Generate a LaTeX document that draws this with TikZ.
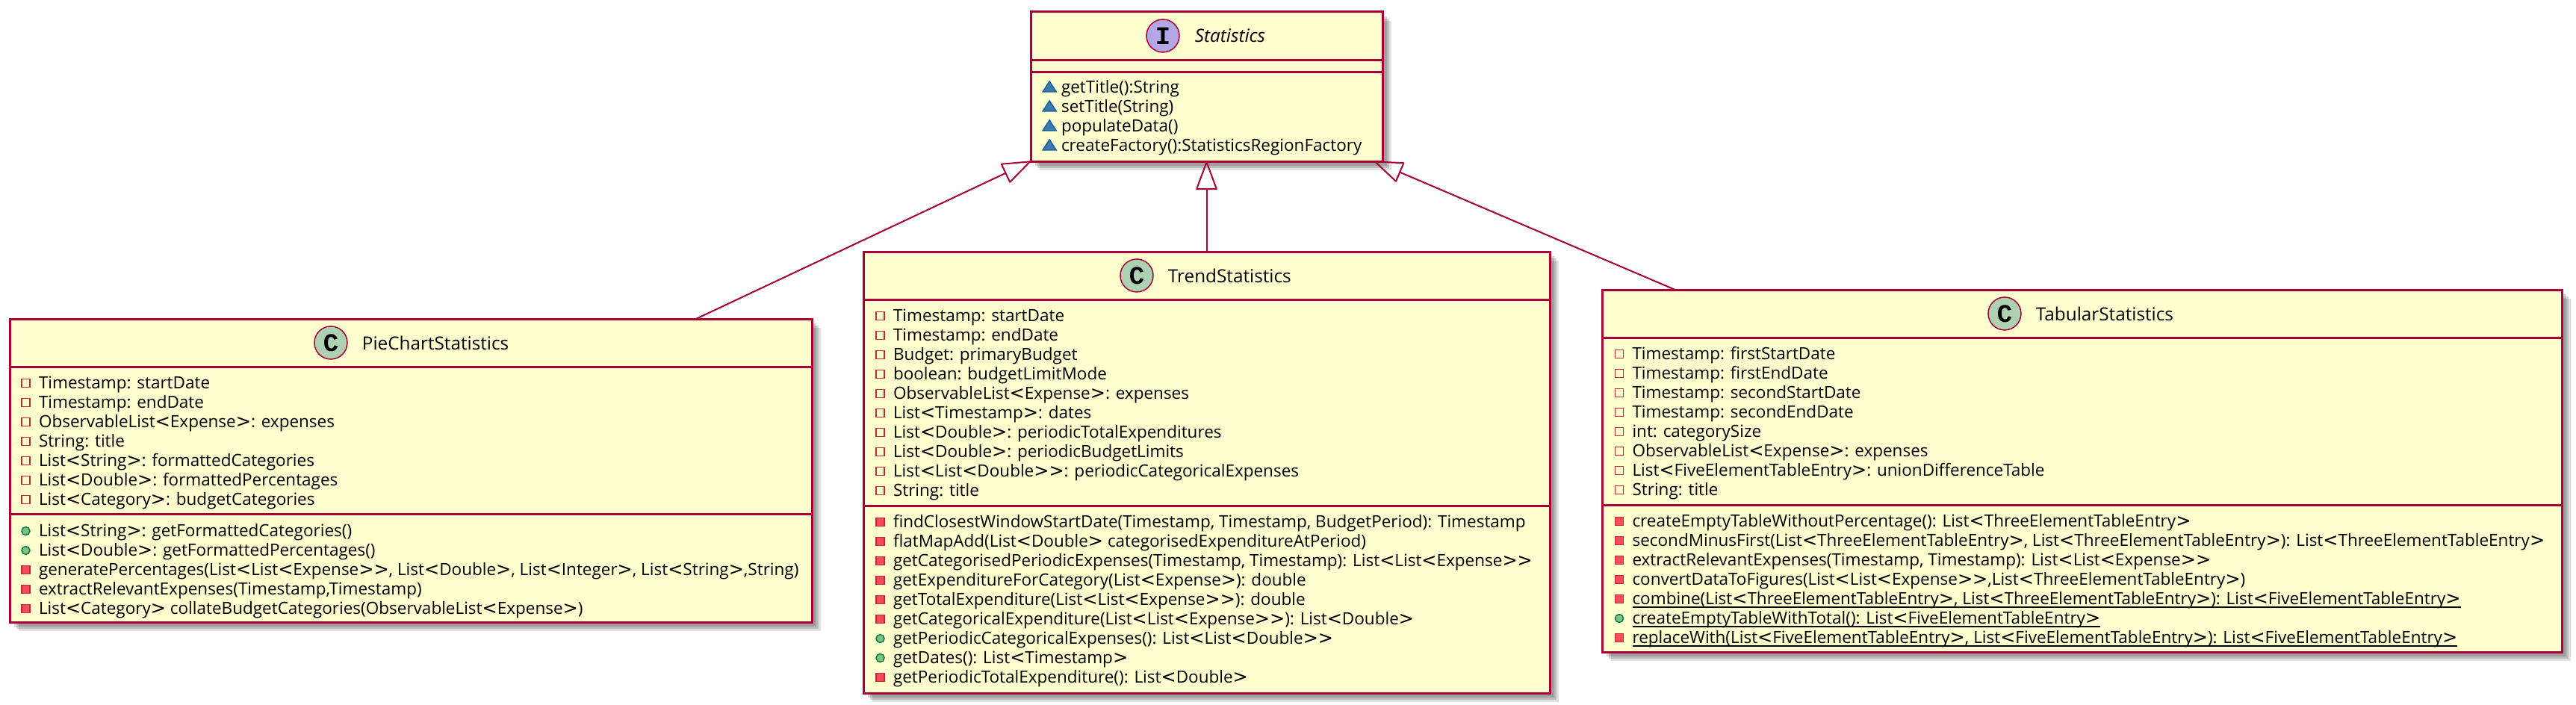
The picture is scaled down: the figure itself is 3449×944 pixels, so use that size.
\documentclass[tikz,border=0pt]{standalone}
\usepackage{fontspec}
\setmainfont{Open Sans}[Ligatures=TeXOff]
\newfontfamily\spotfont{Liberation Mono}
\newfontfamily\bracketfont{DejaVu Sans}[Scale=1.07]
\usepackage{tikz}
\usetikzlibrary{arrows.meta,positioning,shapes.geometric,shadows}
\definecolor{umlborder}{HTML}{A80036}
\definecolor{umlfill}{HTML}{FEFECE}
\definecolor{umlred}{HTML}{C82930}
\definecolor{umlredfill}{HTML}{F24D5C}
\definecolor{umlgreen}{HTML}{038048}
\definecolor{umlgreenfill}{HTML}{84BE84}
\definecolor{umlblue}{HTML}{1963A0}
\definecolor{umlbluefill}{HTML}{4177AF}
\definecolor{spotgreen}{HTML}{ADD1B2}
\definecolor{spotpurple}{HTML}{B4A7E5}
\tikzset{
  uml/box/.style={draw=umlborder, fill=umlfill, rectangle, line width=3pt, inner sep=0pt, outer sep=0pt,
    drop shadow={shadow xshift=6pt, shadow yshift=-6pt, fill=black, opacity=.16},
    drop shadow={shadow xshift=9pt, shadow yshift=-9pt, fill=black, opacity=.16},
    drop shadow={shadow xshift=12pt, shadow yshift=-12pt, fill=black, opacity=.12}},
  uml/spot/.style={draw=umlborder, circle, line width=1.5pt, inner sep=0pt, outer sep=0pt, minimum size=44pt,
    font={\spotfont\fontsize{34}{34}\selectfont\bfseries}},
  uml/title/.style={inner sep=0pt, outer sep=0pt, font=\fontsize{24.3}{26}\selectfont},
  uml/member/.style={anchor=north west, inner sep=0pt, outer sep=0pt, text height=20pt, text depth=6pt,
    font=\fontsize{22.5}{26}\selectfont},
  uml/icon/.style={inner sep=0pt, outer sep=0pt, line width=1.5pt, label distance=12pt},
  uml/square/.style={uml/icon, rectangle, draw=umlred, minimum size=11pt},
  uml/round/.style={uml/icon, circle, draw=umlgreen, fill=umlgreenfill, minimum size=11pt},
  uml/tri/.style={uml/icon, isosceles triangle, isosceles triangle stretches, shape border rotate=90,
    draw=umlblue, fill=umlbluefill, minimum width=18pt, minimum height=14pt, label distance=10pt}
}
\begin{document}
\catcode`\<=\active \def<{{\bracketfont\char`\<}}
\catcode`\>=\active \def>{{\bracketfont\char`\>}}
\begin{tikzpicture}[
  x=1pt, y=-1pt,
  classspot/.style={uml/spot, fill=spotgreen},
  ifacespot/.style={uml/spot, fill=spotpurple},
  sep/.style={draw=umlborder, line width=3pt},
  extends/.style={draw=umlborder, line width=2pt, -{Triangle[open, length=40pt, width=29pt, round]}},
  static/.style={draw=black, line width=2pt},
  privattr/.style={uml/member, label={[uml/square]left:{}}},
  privmeth/.style={uml/member, label={[uml/square, fill=umlredfill]left:{}}},
  pubmeth/.style={uml/member, label={[uml/round]left:{}}},
  pkgmeth/.style={uml/member, label={[uml/tri]left:{}}}
]
\useasboundingbox (0,0) rectangle (3449,944);

\node[uml/box, minimum width=471pt, minimum height=200pt] (statistics) at (1615.5,116) {};
\node[uml/box, minimum width=919pt, minimum height=591pt, below=121pt of statistics] (trend) {};
\node[uml/box, minimum width=1074pt, minimum height=406pt, below left=211pt and 293pt of statistics] (pie) {};
\node[uml/box, minimum width=1285pt, minimum height=485pt, below right=172pt and 294pt of statistics] (tabular) {};

\draw[sep] ([yshift=-65pt]statistics.north west) -- ([yshift=-65pt]statistics.north east);
\draw[sep] ([yshift=-81pt]statistics.north west) -- ([yshift=-81pt]statistics.north east);
\node[ifacespot, below right=16.4pt and 161.4pt of statistics.north west] (sspot) {I};
\node[uml/title, font=\fontsize{24.3}{26}\selectfont\itshape, right=21pt of sspot] (stitle) {Statistics};
\node[pkgmeth, below right=89pt and 41pt of statistics.north west] (sm1) {getTitle():String};
\node[pkgmeth] (sm2) at (sm1.south west) {setTitle(String)};
\node[pkgmeth] (sm3) at (sm2.south west) {populateData()};
\node[pkgmeth] (sm4) at (sm3.south west) {createFactory():StatisticsRegionFactory};

\draw[sep] ([yshift=-64pt]pie.north west) -- ([yshift=-64pt]pie.north east);
\draw[sep] ([yshift=-261pt]pie.north west) -- ([yshift=-261pt]pie.north east);
\node[classspot, below right=16.4pt and 414.4pt of pie.north west] (pspot) {C};
\node[uml/title, right=20pt of pspot] (ptitle) {PieChartStatistics};
\node[privattr, below right=73pt and 39pt of pie.north west] (pa1) {Timestamp: startDate};
\node[privattr] (pa2) at (pa1.south west) {Timestamp: endDate};
\node[privattr] (pa3) at (pa2.south west) {ObservableList<Expense>: expenses};
\node[privattr] (pa4) at (pa3.south west) {String: title};
\node[privattr] (pa5) at (pa4.south west) {List<String>: formattedCategories};
\node[privattr] (pa6) at (pa5.south west) {List<Double>: formattedPercentages};
\node[privattr] (pa7) at (pa6.south west) {List<Category>: budgetCategories};
\node[pubmeth, below right=271pt and 39pt of pie.north west] (pm1) {List<String>: getFormattedCategories()};
\node[pubmeth] (pm2) at (pm1.south west) {List<Double>: getFormattedPercentages()};
\node[privmeth] (pm3) at (pm2.south west) {generatePercentages(List<List<Expense>>, List<Double>, List<Integer>, List<String>,String)};
\node[privmeth] (pm4) at (pm3.south west) {extractRelevantExpenses(Timestamp,Timestamp)};
\node[privmeth] (pm5) at (pm4.south west) {List<Category> collateBudgetCategories(ObservableList<Expense>)};

\draw[sep] ([yshift=-64pt]trend.north west) -- ([yshift=-64pt]trend.north east);
\draw[sep] ([yshift=-340pt]trend.north west) -- ([yshift=-340pt]trend.north east);
\node[classspot, below right=16.4pt and 350.4pt of trend.north west] (tspot) {C};
\node[uml/title, right=20pt of tspot] (ttitle) {TrendStatistics};
\node[privattr, below right=73pt and 40pt of trend.north west] (ta1) {Timestamp: startDate};
\node[privattr] (ta2) at (ta1.south west) {Timestamp: endDate};
\node[privattr] (ta3) at (ta2.south west) {Budget: primaryBudget};
\node[privattr] (ta4) at (ta3.south west) {boolean: budgetLimitMode};
\node[privattr] (ta5) at (ta4.south west) {ObservableList<Expense>: expenses};
\node[privattr] (ta6) at (ta5.south west) {List<Timestamp>: dates};
\node[privattr] (ta7) at (ta6.south west) {List<Double>: periodicTotalExpenditures};
\node[privattr] (ta8) at (ta7.south west) {List<Double>: periodicBudgetLimits};
\node[privattr] (ta9) at (ta8.south west) {List<List<Double>>: periodicCategoricalExpenses};
\node[privattr] (ta10) at (ta9.south west) {String: title};
\node[privmeth, below right=349pt and 40pt of trend.north west] (tm1) {findClosestWindowStartDate(Timestamp, Timestamp, BudgetPeriod): Timestamp};
\node[privmeth] (tm2) at (tm1.south west) {flatMapAdd(List<Double> categorisedExpenditureAtPeriod)};
\node[privmeth] (tm3) at (tm2.south west) {getCategorisedPeriodicExpenses(Timestamp, Timestamp): List<List<Expense>>};
\node[privmeth] (tm4) at (tm3.south west) {getExpenditureForCategory(List<Expense>): double};
\node[privmeth] (tm5) at (tm4.south west) {getTotalExpenditure(List<List<Expense>>): double};
\node[privmeth] (tm6) at (tm5.south west) {getCategoricalExpenditure(List<List<Expense>>): List<Double>};
\node[pubmeth] (tm7) at (tm6.south west) {getPeriodicCategoricalExpenses(): List<List<Double>>};
\node[pubmeth] (tm8) at (tm7.south west) {getDates(): List<Timestamp>};
\node[privmeth] (tm9) at (tm8.south west) {getPeriodicTotalExpenditure(): List<Double>};

\draw[sep] ([yshift=-64pt]tabular.north west) -- ([yshift=-64pt]tabular.north east);
\draw[sep] ([yshift=-288pt]tabular.north west) -- ([yshift=-288pt]tabular.north east);
\node[classspot, below right=16.4pt and 523.4pt of tabular.north west] (uspot) {C};
\node[uml/title, right=20pt of uspot] (utitle) {TabularStatistics};
\node[privattr, below right=73pt and 40.5pt of tabular.north west] (ua1) {Timestamp: firstStartDate};
\node[privattr] (ua2) at (ua1.south west) {Timestamp: firstEndDate};
\node[privattr] (ua3) at (ua2.south west) {Timestamp: secondStartDate};
\node[privattr] (ua4) at (ua3.south west) {Timestamp: secondEndDate};
\node[privattr] (ua5) at (ua4.south west) {int: categorySize};
\node[privattr] (ua6) at (ua5.south west) {ObservableList<Expense>: expenses};
\node[privattr] (ua7) at (ua6.south west) {List<FiveElementTableEntry>: unionDifferenceTable};
\node[privattr] (ua8) at (ua7.south west) {String: title};
\node[privmeth, below right=297pt and 40.5pt of tabular.north west] (um1) {createEmptyTableWithoutPercentage(): List<ThreeElementTableEntry>};
\node[privmeth] (um2) at (um1.south west) {secondMinusFirst(List<ThreeElementTableEntry>, List<ThreeElementTableEntry>): List<ThreeElementTableEntry>};
\node[privmeth] (um3) at (um2.south west) {extractRelevantExpenses(Timestamp, Timestamp): List<List<Expense>>};
\node[privmeth] (um4) at (um3.south west) {convertDataToFigures(List<List<Expense>>,List<ThreeElementTableEntry>)};
\node[privmeth] (um5) at (um4.south west) {combine(List<ThreeElementTableEntry>, List<ThreeElementTableEntry>): List<FiveElementTableEntry>};
\node[pubmeth] (um6) at (um5.south west) {createEmptyTableWithTotal(): List<FiveElementTableEntry>};
\node[privmeth] (um7) at (um6.south west) {replaceWith(List<FiveElementTableEntry>, List<FiveElementTableEntry>): List<FiveElementTableEntry>};
\draw[static] ([yshift=2pt]um5.south west) -- ([yshift=2pt]um5.south east);
\draw[static] ([yshift=2pt]um6.south west) -- ([yshift=2pt]um6.south east);
\draw[static] ([yshift=2pt]um7.south west) -- ([yshift=2pt]um7.south east);

\draw[extends] (pie.28.37) -- (statistics.203.45);
\draw[extends] (trend.north) -- (statistics.south);
\draw[extends] (tabular.156.57) -- (statistics.336);

\end{tikzpicture}
\end{document}
